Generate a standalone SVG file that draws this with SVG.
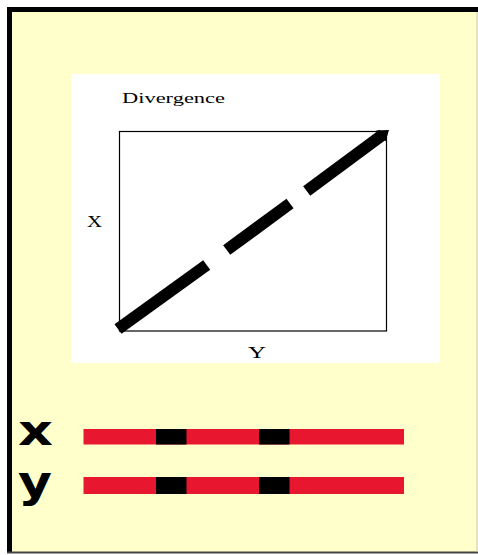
<svg xmlns="http://www.w3.org/2000/svg" width="478" height="555" viewBox="0 0 478 555">
<style>
.serif{font-family:"Liberation Serif","Times New Roman",serif;fill:#000}
.big{font-family:"DejaVu Sans","Liberation Sans",sans-serif;font-weight:bold;fill:#000}
.red{fill:#E8162E}
.blk{fill:#000}
.dash{stroke:#000;stroke-width:12;stroke-linecap:butt;fill:none}
</style>
<rect x="0" y="0" width="478" height="555" fill="#FFFFFF"/>
<g id="page">
<rect x="7" y="7" width="470" height="546" fill="#FFFFCC"/>
<rect x="7" y="7" width="471" height="5" fill="#000"/>
<rect x="7" y="7" width="5" height="546" fill="#000"/>
<rect x="7" y="551.5" width="471" height="2" fill="#444"/>
<line x1="477" y1="12" x2="477" y2="552" stroke="#C8C8A0" stroke-width="1"/>
</g>
<g id="chart">
<rect x="71" y="74" width="369" height="289" fill="#FFFFFF"/>
<rect x="119.5" y="131.5" width="267" height="199.5" fill="none" stroke="#000" stroke-width="1.2"/>
<text class="serif" x="122" y="103" font-size="15" textLength="103" lengthAdjust="spacingAndGlyphs">Divergence</text>
<text class="serif" x="87" y="227" font-size="17" textLength="15" lengthAdjust="spacingAndGlyphs">X</text>
<text class="serif" x="248" y="358" font-size="17" textLength="18" lengthAdjust="spacingAndGlyphs">Y</text>
</g>
<g id="connectors">
<line class="dash" x1="118" y1="329" x2="206.7" y2="265"/>
<line class="dash" x1="226.7" y1="250" x2="290" y2="203.5"/>
<line class="dash" x1="306.7" y1="191" x2="383" y2="134.5"/>
<polygon points="389,130 385.5,141.5 376,130.5" fill="#000"/>
</g>
<g id="chrX">
<text class="big" x="18" y="445" font-size="42" textLength="35" lengthAdjust="spacingAndGlyphs">x</text>
<rect class="red" x="83.5" y="429" width="320.5" height="15.5"/>
<rect class="blk" x="156" y="429" width="30.5" height="15.5"/>
<rect class="blk" x="259" y="429" width="30.5" height="15.5"/>
</g>
<g id="chrY">
<text class="big" x="18" y="497" font-size="44" textLength="34" lengthAdjust="spacingAndGlyphs">y</text>
<rect class="red" x="83.5" y="477" width="320.5" height="17"/>
<rect class="blk" x="156" y="477" width="30.5" height="17"/>
<rect class="blk" x="259" y="477" width="30.5" height="17"/>
</g>
</svg>
